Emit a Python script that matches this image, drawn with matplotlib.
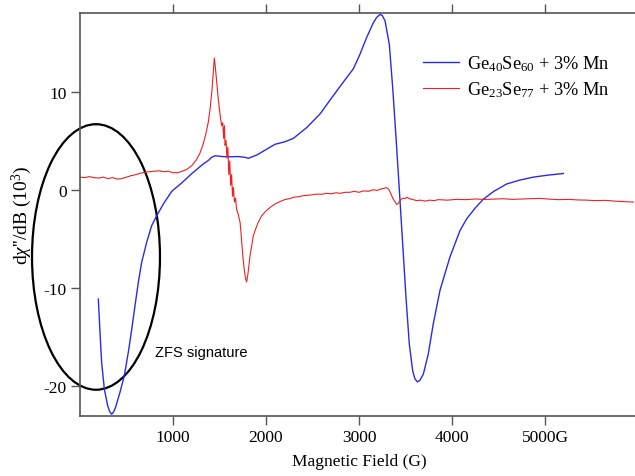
import matplotlib
matplotlib.use("Agg")
import matplotlib.pyplot as plt
from matplotlib.patches import Ellipse

plt.rcParams["font.family"] = ["Liberation Serif", "DejaVu Serif"]
plt.rcParams["mathtext.fontset"] = "custom"
plt.rcParams["mathtext.rm"] = "Liberation Serif"
plt.rcParams["mathtext.it"] = "Liberation Serif:italic"

# Ge40Se60 + 3% Mn spectrum (field in G, signal in 10^3)
blue_field = [197, 215, 233, 262, 298, 320, 341, 362, 384, 430,
              477, 520, 556, 591, 627, 663, 717, 771, 824, 896,
              986, 1093, 1201, 1326, 1380, 1416, 1452, 1530, 1600, 1700,
              1774, 1810, 1900, 2007, 2097, 2200, 2294, 2437, 2581, 2688,
              2796, 2867, 2939, 3011, 3082, 3154, 3190, 3226, 3250, 3280,
              3326, 3362, 3398, 3434, 3470, 3505, 3541, 3577, 3600, 3627,
              3655, 3692, 3745, 3799, 3871, 3978, 4086, 4158, 4250, 4337,
              4450, 4588, 4730, 4875, 5030, 5197]
blue_signal = [-11.1, -14.5, -17.6, -20.3, -22.0, -22.6, -22.85, -22.6, -22.1, -20.6,
               -18.9, -16.5, -14.2, -11.8, -9.4, -7.35, -5.3, -3.6, -2.6, -1.4,
               -0.1, 0.75, 1.7, 2.7, 3.05, 3.37, 3.53, 3.45, 3.42, 3.45,
               3.37, 3.27, 3.6, 4.2, 4.7, 4.95, 5.3, 6.4, 7.8, 9.2,
               10.6, 11.5, 12.4, 13.9, 15.6, 17.1, 17.65, 17.95, 17.85, 17.3,
               14.9, 10.5, 5.4, 0.0, -5.5, -10.9, -15.7, -18.4, -19.2, -19.55,
               -19.4, -18.75, -16.7, -13.6, -10.2, -6.8, -4.1, -2.9, -1.8, -0.9,
               -0.1, 0.65, 1.05, 1.35, 1.55, 1.72]

# Ge23Se77 + 3% Mn spectrum
red_field = [0, 50, 100, 150, 200, 250, 300, 350, 400, 450,
             500, 550, 600, 650, 700, 750, 800, 850, 900, 950,
             1000, 1050, 1100, 1150, 1200, 1250, 1290, 1320, 1350, 1380,
             1400, 1420, 1435, 1444, 1455, 1470, 1487, 1505, 1523, 1535,
             1545, 1553, 1560, 1570, 1580, 1590, 1600, 1610, 1620, 1630,
             1640, 1650, 1660, 1672, 1685, 1700, 1712, 1722, 1735, 1750,
             1765, 1780, 1792, 1805, 1828, 1864, 1910, 1953, 2000, 2050,
             2097, 2150, 2200, 2250, 2300, 2350, 2400, 2450, 2500, 2550,
             2600, 2650, 2700, 2750, 2800, 2850, 2900, 2950, 3000, 3050,
             3100, 3150, 3200, 3240, 3270, 3297, 3320, 3340, 3369, 3390,
             3405, 3425, 3441, 3460, 3477, 3495, 3513, 3540, 3584, 3620,
             3660, 3710, 3760, 3810, 3850, 3950, 4050, 4150, 4250, 4350,
             4450, 4550, 4650, 4750, 4850, 4950, 5050, 5150, 5250, 5350,
             5450, 5550, 5650, 5750, 5850, 5950]
red_signal = [1.35, 1.3, 1.4, 1.3, 1.25, 1.35, 1.2, 1.3, 1.15, 1.2,
              1.35, 1.5, 1.6, 1.75, 1.85, 1.9, 1.95, 2.0, 1.9, 1.95,
              1.8, 1.8, 1.95, 2.15, 2.5, 3.1, 3.8, 4.6, 5.6, 7.0,
              8.4, 10.3, 12.3, 13.5, 12.6, 11.0, 9.3, 7.8, 6.6, 6.9,
              5.3, 6.6, 4.6, 5.1, 3.3, 4.4, 1.6, 3.0, 0.5, 1.6,
              -0.6, 0.3, -1.2, -0.8, -2.0, -2.4, -2.9, -3.3, -4.8, -6.6,
              -8.0, -9.0, -9.35, -8.6, -6.7, -4.6, -3.4, -2.6, -2.1, -1.7,
              -1.4, -1.15, -0.95, -0.85, -0.7, -0.65, -0.55, -0.5, -0.45, -0.38,
              -0.4, -0.3, -0.35, -0.25, -0.3, -0.2, -0.2, -0.1, -0.2, -0.05,
              -0.1, 0.05, 0.0, 0.15, 0.2, 0.28, 0.1, -0.3, -0.9, -1.2,
              -1.45, -1.3, -1.05, -0.85, -0.8, -0.85, -0.7, -0.85, -0.95, -1.05,
              -1.0, -1.1, -1.0, -1.05, -0.95, -1.0, -0.92, -0.95, -0.88, -0.93,
              -0.9, -0.86, -0.92, -0.88, -0.85, -0.82, -0.9, -0.95, -0.92, -0.98,
              -1.0, -1.05, -1.02, -1.1, -1.15, -1.2]

x_ticks = [1000, 2000, 3000, 4000, 5000]
x_tick_labels = ["1000", "2000", "3000", "4000", "5000G"]
y_ticks = [-20, -10, 0, 10]
y_tick_labels = ["-20", "-10", "0", "10"]

W, H = 635, 477
fig = plt.figure(figsize=(W / 100, H / 100), dpi=100)
ax = fig.add_axes([80 / W, (H - 416.7) / H, 558 / W, (416.7 - 14) / H])

ax.plot(blue_field, blue_signal, color="#2a2ae6", lw=1.0,
        solid_joinstyle="round", label=r"Ge$_{40}$Se$_{60}$ + 3% Mn")
ax.plot(red_field, red_signal, color="#ee2020", lw=0.8,
        solid_joinstyle="round", label=r"Ge$_{23}$Se$_{77}$ + 3% Mn")

ax.add_patch(Ellipse((172, -6.8), 1376, 27.1, fill=False, edgecolor="black",
                     lw=1.6, clip_on=False))
ax.text(806, -16.5, "ZFS signature", family="Liberation Sans", fontsize=10.5,
        va="center", ha="left")

ax.set_xlim(0, 6000)
ax.set_ylim(-23.0, 18.1)
ax.set_xticks(x_ticks)
ax.set_xticklabels(x_tick_labels)
ax.set_yticks(y_ticks)
ax.set_yticklabels(y_tick_labels)
ax.tick_params(axis="both", direction="out", length=6.5, width=1.0, color="#555555",
               labelsize=12.5, top=True, right=True, pad=3)
for sp in ax.spines.values():
    sp.set_color("#555555")
    sp.set_linewidth(1.2)

ax.set_xlabel("Magnetic Field (G)", fontsize=12.5, labelpad=6)
ax.set_ylabel(r"d$\chi$''/dB (10$^{3}$)", fontsize=14, labelpad=7)

ax.legend(loc="upper left", bbox_to_anchor=(414 / W, (H - 45) / H),
          bbox_transform=fig.transFigure, frameon=False, fontsize=13.2,
          handlelength=1.95, handletextpad=0.45, borderpad=0, labelspacing=0.35)

fig.savefig("out.png", dpi=100)
